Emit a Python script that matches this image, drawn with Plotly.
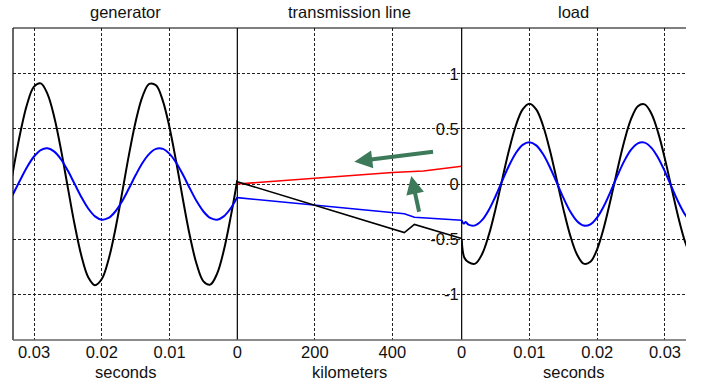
import plotly.graph_objects as go

# ---------------- data ----------------
gen_t = [0.000, 0.001, 0.002, 0.003, 0.004, 0.005, 0.006, 0.007, 0.008, 0.009,
         0.010, 0.011, 0.012, 0.013, 0.014, 0.015, 0.016, 0.017, 0.018, 0.019,
         0.020, 0.021, 0.022, 0.023, 0.024, 0.025, 0.026, 0.027, 0.028, 0.029,
         0.030, 0.031, 0.032, 0.033, 0.034]
gen_black = [0.035, -0.306, -0.605, -0.817, -0.915, -0.885, -0.730, -0.473, -0.150, 0.195,
             0.512, 0.758, 0.897, 0.910, 0.795, 0.568, 0.262, -0.081, -0.413, -0.686,
             -0.864, -0.920, -0.847, -0.654, -0.371, -0.035, 0.306, 0.605, 0.817, 0.915,
             0.885, 0.730, 0.473, 0.150, -0.195]
gen_blue = [-0.120, -0.223, -0.294, -0.324, -0.309, -0.250, -0.157, -0.041, 0.081, 0.191,
            0.274, 0.319, 0.319, 0.274, 0.191, 0.081, -0.041, -0.157, -0.250, -0.309,
            -0.324, -0.294, -0.223, -0.120, 0.000, 0.120, 0.223, 0.294, 0.324, 0.309,
            0.250, 0.157, 0.041, -0.081, -0.191]

line_km_red = [0, 400, 480, 579]
line_red = [0.0, 0.105, 0.118, 0.162]
line_km_blue = [0, 400, 431, 457, 579]
line_blue = [-0.124, -0.255, -0.270, -0.303, -0.330]
line_km_black = [0, 400, 431, 457, 575, 579]
line_black = [0.021, -0.410, -0.442, -0.367, -0.485, -0.495]

load_t_black = [0.0, 0.0004, 0.001, 0.002, 0.003, 0.004, 0.005, 0.006, 0.007, 0.008,
                0.009, 0.010, 0.011, 0.012, 0.013, 0.014, 0.015, 0.016, 0.017, 0.018,
                0.019, 0.020, 0.021, 0.022, 0.023, 0.024, 0.025, 0.026, 0.027, 0.028,
                0.029, 0.030, 0.031, 0.032, 0.033, 0.034]
load_black = [-0.50, -0.67, -0.71, -0.724, -0.639, -0.465, -0.226, 0.046, 0.311, 0.532,
              0.679, 0.730, 0.679, 0.532, 0.311, 0.046, -0.226, -0.465, -0.639, -0.724,
              -0.707, -0.591, -0.391, -0.137, 0.137, 0.391, 0.591, 0.707, 0.724, 0.639,
              0.465, 0.226, -0.046, -0.311, -0.532, -0.679]
load_t_blue = [0.0, 0.0003, 0.0006, 0.001, 0.002, 0.003, 0.004, 0.005, 0.006, 0.007,
               0.008, 0.009, 0.010, 0.011, 0.012, 0.013, 0.014, 0.015, 0.016, 0.017,
               0.018, 0.019, 0.020, 0.021, 0.022, 0.023, 0.024, 0.025, 0.026, 0.027,
               0.028, 0.029, 0.030, 0.031, 0.032, 0.033, 0.034]
load_blue = [-0.33, -0.36, -0.345, -0.37, -0.376, -0.329, -0.237, -0.111, 0.031, 0.168,
             0.282, 0.356, 0.380, 0.351, 0.272, 0.155, 0.017, -0.124, -0.248, -0.336,
             -0.378, -0.366, -0.303, -0.198, -0.064, 0.078, 0.210, 0.312, 0.370, 0.376,
             0.329, 0.237, 0.111, -0.031, -0.168, -0.282, -0.356]

panel_titles = ["generator", "transmission line", "load"]
axis_titles = ["seconds", "kilometers", "seconds"]
gen_ticks = [0.03, 0.02, 0.01]
line_ticks = [0, 200, 400]
load_ticks = [0, 0.01, 0.02, 0.03]
y_ticks = [-1, -0.5, 0, 0.5, 1]
y_ticktext = ["-1", "-0.5", "0", "0.5", "1"]

# ---------------- figure ----------------
FONT = "Liberation Sans, Arial, sans-serif"
BLACK = "#000000"
BLUE = "#0000ff"
RED = "#ff0000"
GREEN = "#3c7a5a"

fig = go.Figure()

def add(x, y, color, xa, width=2.0, shape="spline"):
    fig.add_trace(go.Scatter(x=x, y=y, xaxis=xa, yaxis="y", mode="lines",
                             line=dict(color=color, width=width, shape=shape,
                                       smoothing=1.0),
                             showlegend=False, hoverinfo="skip"))

add(gen_t, gen_black, BLACK, "x")
add(gen_t, gen_blue, BLUE, "x")
add(line_km_red, line_red, RED, "x2", 1.6, "linear")
add(line_km_blue, line_blue, BLUE, "x2", 1.6, "linear")
add(line_km_black, line_black, BLACK, "x2", 1.6, "linear")
add(load_t_black, load_black, BLACK, "x3")
add(load_t_blue, load_blue, BLUE, "x3")

grid = dict(showgrid=True, gridcolor="#222222", gridwidth=1, griddash="3px,2px",
            zeroline=False, showline=False, ticks="", automargin=False,
            tickfont=dict(size=16.5))

fig.update_layout(
    width=709, height=390,
    margin=dict(l=13, r=23, t=28, b=50),
    paper_bgcolor="white", plot_bgcolor="white",
    font=dict(family=FONT, size=16.5, color="#111111"),
    showlegend=False,
    xaxis=dict(domain=[0, 1/3], range=[0.0331, 0], anchor="y",
               tickvals=gen_ticks, ticktext=[f"{v:g}" for v in gen_ticks], **grid),
    xaxis2=dict(domain=[1/3, 2/3], range=[0, 579], anchor="y",
                tickvals=line_ticks, ticktext=[str(v) for v in line_ticks], **grid),
    xaxis3=dict(domain=[2/3, 1], range=[0, 0.0331], anchor="y",
                tickvals=load_ticks, ticktext=[f"{v:g}" for v in load_ticks], **grid),
    yaxis=dict(range=[-1.418, 1.418], anchor="x3", side="left", ticklabelstandoff=2,
               tickvals=y_ticks, ticktext=y_ticktext, **grid),
)

# panel frame lines
shapes = []
for xp in [0, 1/3, 2/3]:
    shapes.append(dict(type="line", xref="paper", yref="paper", x0=xp, x1=xp, y0=0, y1=1,
                       line=dict(color=BLACK, width=1.2)))
shapes.append(dict(type="line", xref="paper", yref="paper", x0=0, x1=1, y0=1, y1=1,
                   line=dict(color=BLACK, width=1.2)))
shapes.append(dict(type="line", xref="paper", yref="paper", x0=0, x1=1, y0=0, y1=0,
                   line=dict(color="#666666", width=1.5)))
fig.update_layout(shapes=shapes)

annotations = []
centers = [1/6, 0.5, 5/6]
for c, t in zip(centers, panel_titles):
    annotations.append(dict(x=c, y=1.051, xref="paper", yref="paper", text=t,
                            showarrow=False, xanchor="center", yanchor="middle",
                            font=dict(size=16.5)))
for c, t in zip(centers, axis_titles):
    annotations.append(dict(x=c, y=-0.103, xref="paper", yref="paper", text=t,
                            showarrow=False, xanchor="center", yanchor="middle",
                            font=dict(size=16.5)))
# arrows
annotations.append(dict(x=302, y=0.203, ax=509, ay=0.294, xref="x2", yref="y",
                        axref="x2", ayref="y", text="", showarrow=True,
                        arrowhead=2, arrowsize=0.9, arrowwidth=4, arrowcolor=GREEN))
annotations.append(dict(x=449, y=0.073, ax=470, ay=-0.266, xref="x2", yref="y",
                        axref="x2", ayref="y", text="", showarrow=True,
                        arrowhead=2, arrowsize=0.9, arrowwidth=4, arrowcolor=GREEN))
fig.update_layout(annotations=annotations)

fig.write_html("out.html")
